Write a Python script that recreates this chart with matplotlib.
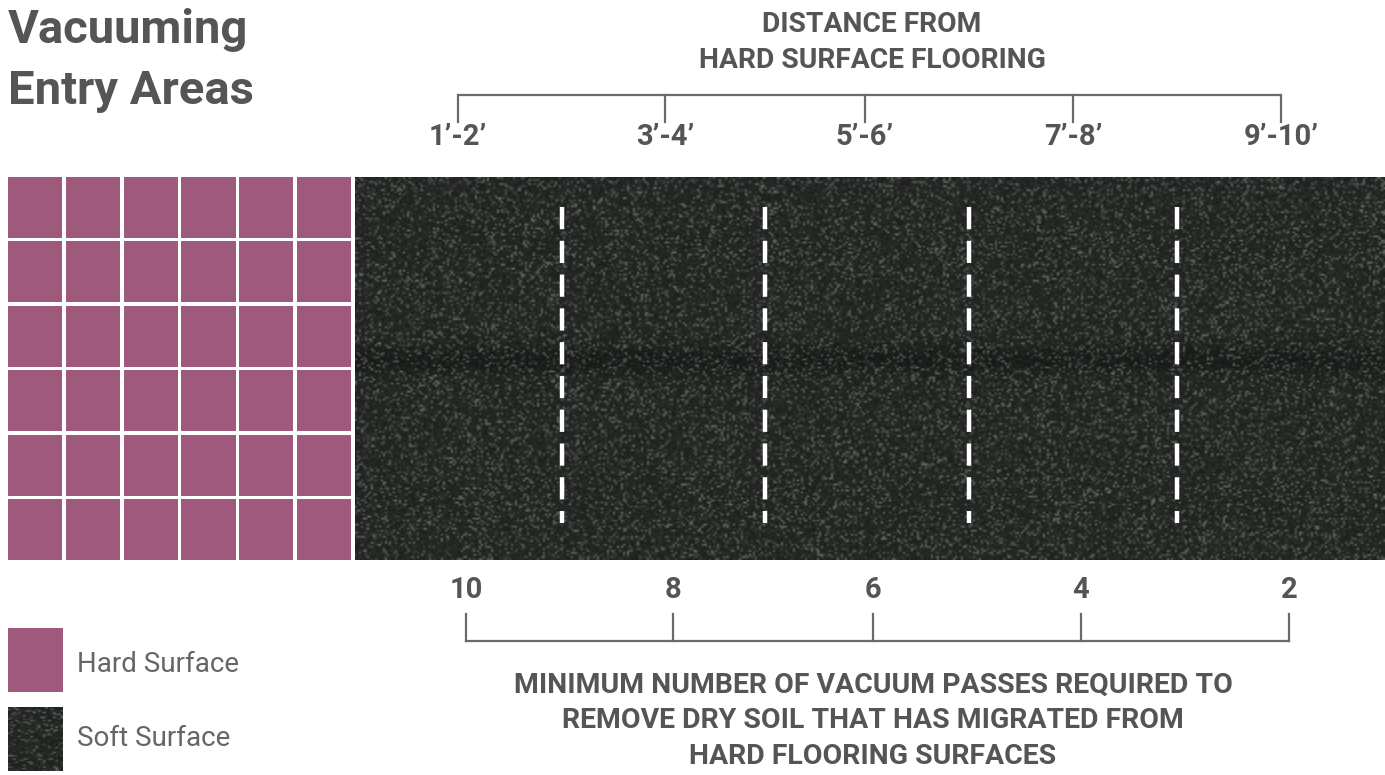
import numpy as np
import matplotlib
matplotlib.use("Agg")
import matplotlib.pyplot as plt
from matplotlib.patches import Rectangle

# ---- data ----
title_lines = ["Vacuuming", "Entry Areas"]
distance_labels = ["1\u2019-2\u2019", "3\u2019-4\u2019", "5\u2019-6\u2019", "7\u2019-8\u2019", "9\u2019-10\u2019"]
passes = [10, 8, 6, 4, 2]
tile_rows = 6
tile_cols = 6
top_title = ["DISTANCE FROM", "HARD SURFACE FLOORING"]
bottom_title = ["MINIMUM NUMBER OF VACUUM PASSES REQUIRED TO",
                "REMOVE DRY SOIL THAT HAS MIGRATED FROM",
                "HARD FLOORING SURFACES"]
legend_labels = ["Hard Surface", "Soft Surface"]

PINK = "#9d5a7d"
TXT = "#555555"
LINE = "#6a6a6a"
FONT = "Roboto"

W, H = 1385, 775
fig = plt.figure(figsize=(W / 100, H / 100), dpi=100)
ax = fig.add_axes([0, 0, 1, 1])
ax.set_xlim(0, W)
ax.set_ylim(H, 0)
ax.axis("off")

# title
ax.text(8, 30, title_lines[0], fontsize=34, fontweight="bold", color=TXT, family=FONT, va="center", ha="left")
ax.text(8, 91, title_lines[1], fontsize=34, fontweight="bold", color=TXT, family=FONT, va="center", ha="left")

# hard surface tiles
gx0, gx1, gy0, gy1 = 8, 351, 177, 560
gap = 3.5
cw = (gx1 - gx0 + gap) / tile_cols
ch = (gy1 - gy0 + gap) / tile_rows
for r in range(tile_rows):
    for c in range(tile_cols):
        ax.add_patch(Rectangle((gx0 + c * cw, gy0 + r * ch), cw - gap, ch - gap,
                               facecolor=PINK, edgecolor="none"))

# carpet texture (decorative)
rng = np.random.default_rng(3)
cx0, cx1, cy0, cy1 = 355, 1385, 177, 560
tex_h, tex_w = 190, 515
base = np.full((tex_h, tex_w), 0.12)
speck = rng.random((tex_h, tex_w))
tex = base + 0.26 * (speck > 0.74) * rng.random((tex_h, tex_w)) + 0.05 * rng.random((tex_h, tex_w))
yy = np.linspace(cy0, cy1, tex_h)
tex -= 0.035 * np.exp(-((yy - 360) / 14) ** 2)[:, None]
rgb = np.stack([tex * 0.95, tex * 1.02, tex * 0.95], axis=-1).clip(0, 1)
ax.imshow(rgb, extent=(cx0, cx1, cy1, cy0), interpolation="bilinear", aspect="auto", zorder=1)

# top bracket
top_x = [458, 665, 865, 1073, 1281]
ax.plot([top_x[0], top_x[-1]], [95, 95], color=LINE, lw=1.6, solid_capstyle="butt")
for x, lab in zip(top_x, distance_labels):
    ax.plot([x, x], [95, 122], color=LINE, lw=1.6)
    ax.text(x, 137, lab, fontsize=21, fontweight="bold", color=TXT, family=FONT, ha="center", va="center")
ax.text(872, 24, top_title[0], fontsize=20.3, fontweight="bold", color=TXT, family=FONT,
        ha="center", va="center")
ax.text(872, 61, top_title[1], fontsize=20.3, fontweight="bold", color=TXT, family=FONT,
        ha="center", va="center")

# dashed dividers between distance bands
for i in range(len(top_x) - 1):
    xm = (top_x[i] + top_x[i + 1]) / 2
    ax.plot([xm, xm], [207, 523], color="white", lw=3.2, ls=(0, (5, 2.6)), zorder=3)

# bottom bracket
bot_x = [466, 673, 873, 1081, 1289]
for x, p in zip(bot_x, passes):
    ax.text(x, 590, str(p), fontsize=21, fontweight="bold", color=TXT, family=FONT, ha="center", va="center")
    ax.plot([x, x], [614, 641], color=LINE, lw=1.6)
ax.plot([bot_x[0], bot_x[-1]], [641, 641], color=LINE, lw=1.6)
for k, line in enumerate(bottom_title):
    ax.text(873, 685 + k * 36, line, fontsize=20.4, fontweight="bold", color=TXT, family=FONT,
            ha="center", va="center")

# legend
ax.add_patch(Rectangle((8, 628), 55, 64, facecolor=PINK, edgecolor="none"))
sw = rgb[:40, :22]
ax.imshow(sw, extent=(8, 63, 771, 707), interpolation="bilinear", aspect="auto", zorder=1)
ax.text(77, 664, legend_labels[0], fontsize=20, color="#666666", family=FONT, ha="left", va="center")
ax.text(77, 738, legend_labels[1], fontsize=20, color="#666666", family=FONT, ha="left", va="center")

fig.savefig("out.png", dpi=100)
